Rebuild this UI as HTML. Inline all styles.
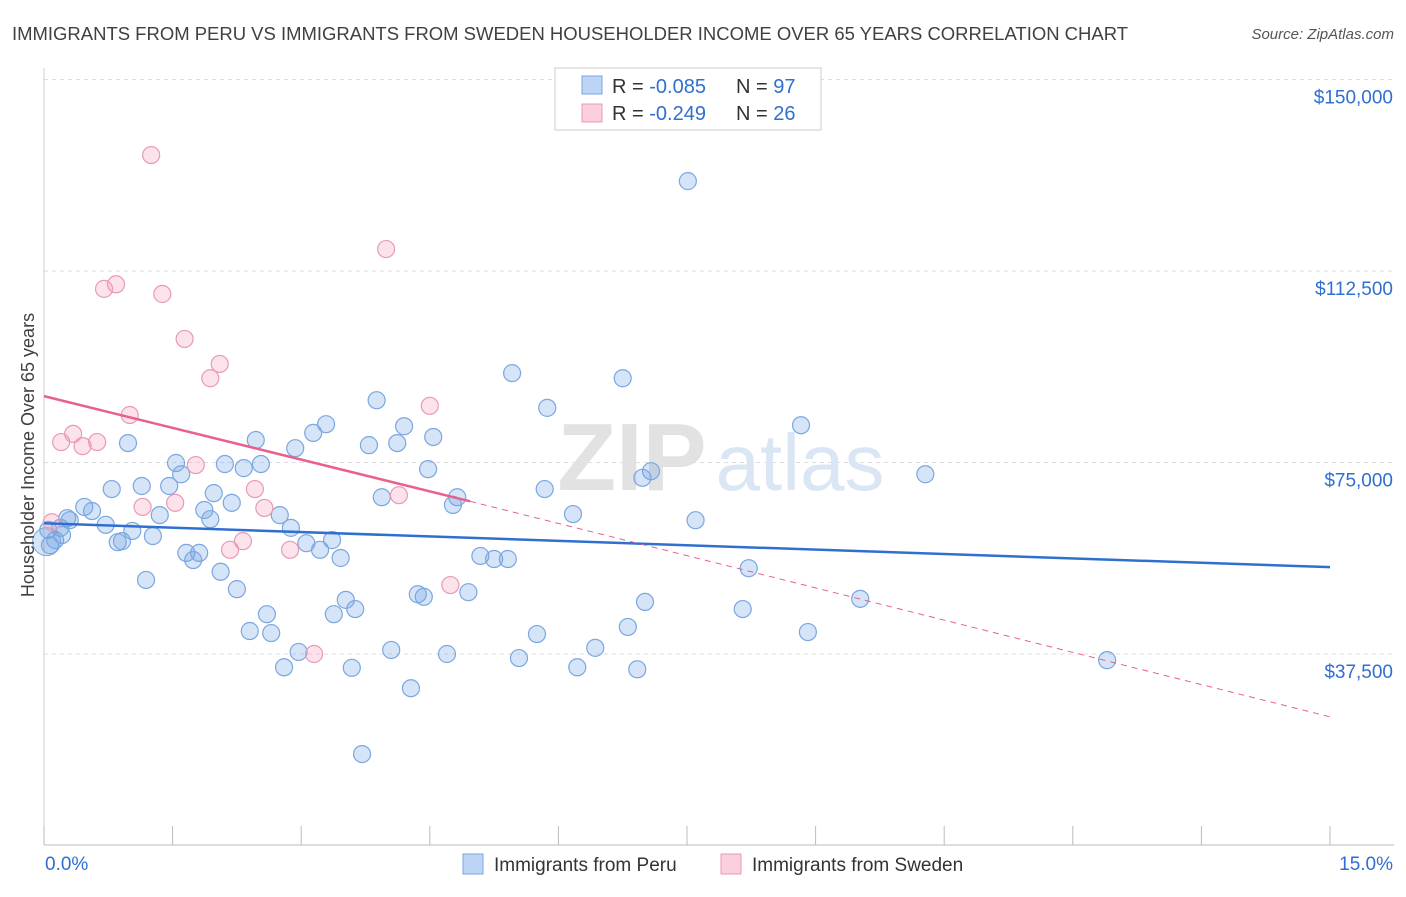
<!DOCTYPE html>
<html><head><meta charset="utf-8"><style>
body{margin:0;background:#fff;font-family:"Liberation Sans",sans-serif;}
svg text{font-family:"Liberation Sans",sans-serif;}
</style></head><body>
<svg width="1406" height="892" xmlns="http://www.w3.org/2000/svg" id="chart">
<text x="12" y="40" font-size="18" fill="#404040" textLength="1116" lengthAdjust="spacingAndGlyphs">IMMIGRANTS FROM PERU VS IMMIGRANTS FROM SWEDEN HOUSEHOLDER INCOME OVER 65 YEARS CORRELATION CHART</text>
<text x="1394" y="39" font-size="15" fill="#555" text-anchor="end" font-style="italic">Source: ZipAtlas.com</text>
<g id="grid"></g>
<g><text x="632" y="490" font-size="96" fill="#e2e2e2" font-family="Liberation Serif" text-anchor="middle" font-weight="bold">ZIP</text><text x="800" y="490" font-size="80" fill="#dbe6f4" text-anchor="middle">atlas</text></g>
<g id="axes"></g>
<g id="pts"></g>
<g id="trends"></g>
<text transform="translate(34,455) rotate(-90)" font-size="18" fill="#404040" text-anchor="middle">Householder Income Over 65 years</text>
<g>
<rect x="555" y="68" width="266" height="62" fill="#fff" stroke="#ccc"/>
<rect x="582" y="76" width="20" height="18" fill="#bcd4f5" stroke="#7aa7e0"/>
<rect x="582" y="104" width="20" height="18" fill="#fbcfdc" stroke="#e89ab5"/>
<text x="612" y="93" font-size="20" fill="#333">R = <tspan fill="#2f6fd0">-0.085</tspan></text>
<text x="736" y="93" font-size="20" fill="#333">N = <tspan fill="#2f6fd0">97</tspan></text>
<text x="612" y="120" font-size="20" fill="#333">R = <tspan fill="#2f6fd0">-0.249</tspan></text>
<text x="736" y="120" font-size="20" fill="#333">N = <tspan fill="#2f6fd0">26</tspan></text>
</g>
<g>
<rect x="463" y="854" width="20" height="20" fill="#bcd4f5" stroke="#7aa7e0"/>
<text x="494" y="871" font-size="19" fill="#333">Immigrants from Peru</text>
<rect x="721" y="854" width="20" height="20" fill="#fbcfdc" stroke="#e89ab5"/>
<text x="752" y="871" font-size="19" fill="#333">Immigrants from Sweden</text>
</g>
</svg>
<script>
const yTicks=[37500,75000,112500,150000];
const yTickLabels=["$37,500","$75,000","$112,500","$150,000"];
const xTickCount=10;
const xLabels=["0.0%","15.0%"];
const peruX=[7.51,5.46,6.75,3.88,5.87,8.83,3.29,4.20,3.14,4.54,0.98,2.47,3.79,4.12,2.93,1.54,2.11,2.33,2.53,1.60,4.48,7.08,6.98,10.28,0.79,1.14,1.46,1.98,5.84,3.94,4.82,4.77,2.19,0.47,0.56,0.27,1.87,1.35,2.75,6.17,7.60,1.94,0.72,1.03,2.88,1.27,0.86,0.91,3.06,3.36,3.22,1.66,1.81,1.74,3.46,5.09,5.25,5.41,8.22,2.06,1.19,2.25,4.36,4.43,4.95,3.52,7.01,2.60,3.63,3.38,8.15,9.52,6.81,2.40,2.65,5.75,8.91,4.05,6.43,2.97,4.70,5.54,12.40,2.80,3.59,6.22,6.92,4.28,3.71,0.13,0.07,0.19,0.30,0.05,0.21];
const peruY=[130.1,92.5,91.5,87.2,85.7,82.3,82.5,82.1,80.8,80.0,78.8,79.4,78.4,78.8,77.8,74.9,74.7,73.9,74.7,72.7,73.7,73.3,72.0,72.7,69.8,70.4,70.4,69.0,69.8,68.2,68.2,66.7,67.1,66.3,65.5,64.1,65.7,64.7,64.7,64.9,63.7,63.9,62.8,61.6,62.2,60.6,59.4,59.6,59.2,59.8,57.9,57.3,57.3,55.9,56.3,56.7,56.1,56.1,54.3,53.6,52.0,50.2,49.2,48.7,49.6,48.1,47.7,45.3,46.3,45.3,46.3,48.3,42.8,42.0,41.6,41.4,41.8,38.3,38.7,37.9,37.5,36.7,36.3,34.9,34.8,34.9,34.5,30.8,17.9,59.8,58.8,62.2,63.7,61.8,60.8];
const swedenX=[1.25,3.99,0.84,0.70,1.38,1.64,2.05,1.94,4.50,1.00,0.34,0.20,0.62,0.45,1.77,2.46,4.14,1.53,1.15,2.57,0.09,2.32,2.17,2.87,4.74,3.15];
const swedenY=[135.2,116.8,109.9,109.0,108.0,99.2,94.3,91.5,86.1,84.3,80.6,79.0,79.0,78.2,74.5,69.8,68.6,67.1,66.3,66.1,63.3,59.6,57.9,57.9,51.0,37.5];
const peruTrendX=[0,15];const peruTrendY=[63.1,54.5];
const swedenTrendX=[0,4.97,15];const swedenTrendY=[88.0,67.4,25.2];
const NS="http://www.w3.org/2000/svg";
const xs=v=>44+v/15*1286;
const ys=k=>654-(k-37.5)*191.5/37.5;
function mk(tag,attrs,parent){const e=document.createElementNS(NS,tag);for(const k in attrs)e.setAttribute(k,attrs[k]);parent.appendChild(e);return e;}
const grid=document.getElementById('grid'),axes=document.getElementById('axes');
yTicks.forEach((t,i)=>{const y=ys(t/1000);
const l=mk('line',{x1:44,x2:1394,y1:y,y2:y,stroke:'#ddd','stroke-dasharray':'4,4'},grid);


const tx=mk('text',{x:1393,y:y+24,'font-size':19,fill:'#2f6fd0','text-anchor':'end'},axes);tx.textContent=yTickLabels[i];

});
const ax=mk('line',{x1:44,x2:1394,y1:845,y2:845,stroke:'#bbb'},axes);


const ay=mk('line',{x1:44,x2:44,y1:68,y2:845,stroke:'#ccc'},axes);


for(let i=0;i<=xTickCount;i++){const x=xs(i*15/xTickCount);const t=mk('line',{x1:x,x2:x,y1:826,y2:845,stroke:'#bbb'},axes);

}
const xl0=mk('text',{x:45,y:870,'font-size':19,fill:'#2f6fd0'},axes);xl0.textContent=xLabels[0];


const xl1=mk('text',{x:1393,y:870,'font-size':19,fill:'#2f6fd0','text-anchor':'end'},axes);xl1.textContent=xLabels[1];


const pts=document.getElementById('pts');
peruX.forEach((v,i)=>{const c=mk('circle',{cx:xs(v),cy:ys(peruY[i]),r:8.5,fill:'rgba(120,165,230,0.3)',stroke:'#7aa7e0','stroke-width':1.2},pts);

});
const big=mk('circle',{cx:xs(0.03),cy:ys(59.5),r:14,fill:'rgba(120,165,230,0.3)',stroke:'#7aa7e0'},pts);


swedenX.forEach((v,i)=>{const c=mk('circle',{cx:xs(v),cy:ys(swedenY[i]),r:8.5,fill:'rgba(245,160,190,0.3)',stroke:'#e89ab5','stroke-width':1.2},pts);

});
const tr=document.getElementById('trends');
const bl=mk('line',{x1:xs(peruTrendX[0]),y1:ys(peruTrendY[0]),x2:xs(peruTrendX[1]),y2:ys(peruTrendY[1]),stroke:'#2f6fd0','stroke-width':2.5},tr);


const pl=mk('line',{x1:xs(swedenTrendX[0]),y1:ys(swedenTrendY[0]),x2:xs(swedenTrendX[1]),y2:ys(swedenTrendY[1]),stroke:'#e8608c','stroke-width':2.5},tr);


const pd=mk('line',{x1:xs(swedenTrendX[1]),y1:ys(swedenTrendY[1]),x2:xs(swedenTrendX[2]),y2:ys(swedenTrendY[2]),stroke:'#e8608c','stroke-width':1,'stroke-dasharray':'6,5'},tr);


</script>
</body></html>
